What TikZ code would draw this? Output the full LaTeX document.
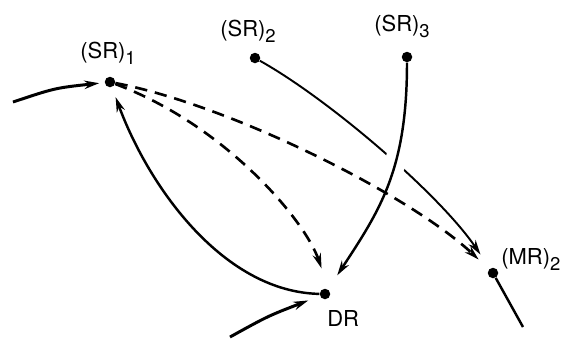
\documentclass[tikz,border=0pt]{standalone}
\usepackage{fontspec}
\setmainfont{TeX Gyre Heros}
\usetikzlibrary{arrows.meta}
\newcommand{\lowsub}[1]{\raisebox{-0.55ex}{\fontsize{10.5}{12}\selectfont #1}}
\tikzset{
  dotnode/.style={circle,fill=black,minimum size=0.21cm,inner sep=0pt},
  lblnode/.style={anchor=base west,inner sep=0pt,font=\fontsize{12.5}{14}\selectfont},
  flow/.style={line width=1.4pt,-{Stealth[length=8.5pt,width=4.8pt]}},
  thinflow/.style={line width=1.1pt,-{Stealth[length=8.5pt,width=4.8pt]}},
  dashflow/.style={line width=1.5pt,dash pattern=on 7pt off 4.5pt,-{Stealth[length=8.5pt,width=4.8pt]}},
}

\begin{document}
\begin{tikzpicture}[x=0.02cm,y=-0.02cm]
  \useasboundingbox (0,0) rectangle (565,339);
  % states
  \node[dotnode] (sr1) at (110,82) {};
  \node[dotnode] (sr2) at (255,58) {};
  \node[dotnode] (sr3) at (407,57) {};
  \node[dotnode] (dr) at (325,294) {};
  \node[dotnode] (mr2) at (493,273) {};
  \node[lblnode] (sr1lbl) at (80,58) {(SR)\lowsub{1}};
  \node[lblnode] (sr2lbl) at (220,36) {(SR)\lowsub{2}};
  \node[lblnode] (sr3lbl) at (374,31) {(SR)\lowsub{3}};
  \node[lblnode] (drlbl) at (327,326) {DR};
  \node[lblnode] (mr2lbl) at (501,264) {(MR)\lowsub{2}};
  \coordinate (in1) at (13,102);
  \coordinate (in2) at (230,337);
  \coordinate (out1) at (523,327);
  % incoming and outgoing
  \draw[flow,line width=1.7pt,shorten >=3pt] (in1) .. controls (55,88) .. (sr1);
  \draw[flow,line width=1.7pt,shorten >=7pt] (in2) .. controls (268,316) .. (dr);
  \draw[line width=1.4pt] (mr2) -- (out1);
  % solid transitions
  \draw[flow,shorten >=6pt] (dr) .. controls (225,292) and (150,190) .. (sr1);
  \draw[thinflow,shorten >=9.5pt] (sr2) .. controls (330,100) and (440,195) .. (mr2);
  \begin{scope}
    \clip (380,148) rectangle (420,176);
    \draw[white,line width=12pt] (sr3) .. controls (407,170) and (380,210) .. (dr);
  \end{scope}
  \draw[flow,shorten >=9.5pt] (sr3) .. controls (407,170) and (380,210) .. (dr);
  % dashed transitions
  \draw[dashflow,shorten >=13pt] (sr1) .. controls (225,125) and (305,220) .. (dr.north east);
  \draw[dashflow,shorten >=8pt] (sr1) .. controls (230,105) and (410,195) .. (mr2);
\end{tikzpicture}
\end{document}
